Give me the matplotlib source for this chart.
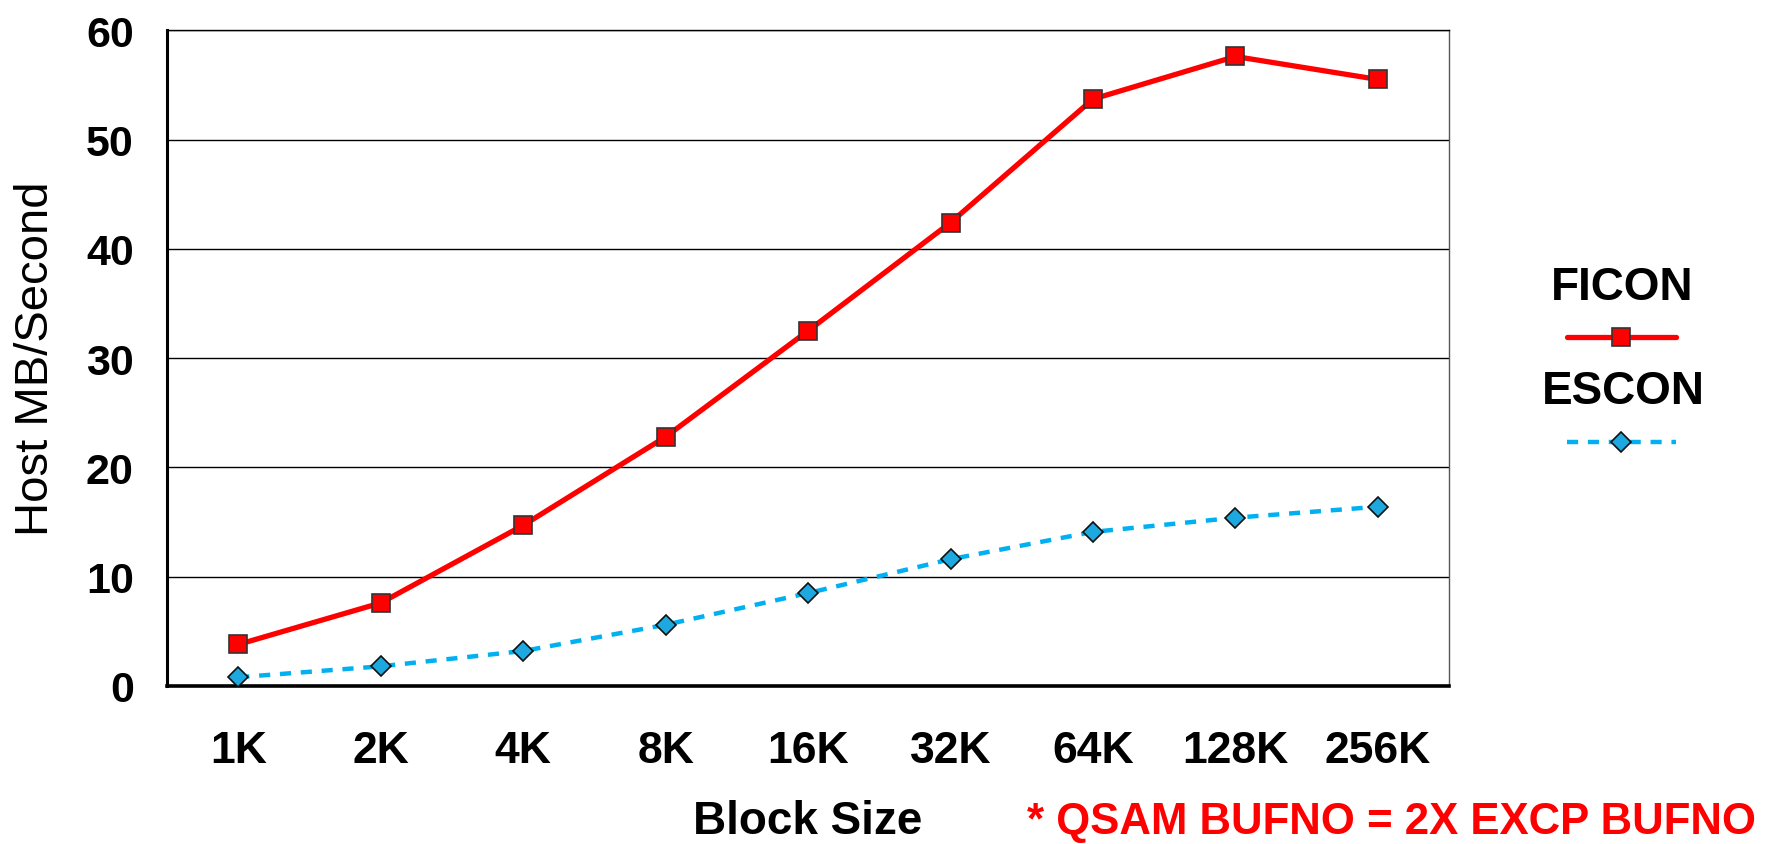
import matplotlib.pyplot as plt
from matplotlib.lines import Line2D

block_sizes = ["1K", "2K", "4K", "8K", "16K", "32K", "64K", "128K", "256K"]
ficon = [3.8, 7.6, 14.7, 22.8, 32.5, 42.4, 53.7, 57.6, 55.5]
escon = [0.8, 1.8, 3.2, 5.6, 8.5, 11.6, 14.1, 15.4, 16.4]

RED = "#FF0000"
BLUE = "#00B0F0"

plt.rcParams["font.family"] = ["Liberation Sans", "DejaVu Sans"]

fig = plt.figure(figsize=(17.68, 8.45), dpi=100)
ax = fig.add_axes([0.0945, 0.187, 0.7251, 0.776])

x = range(len(block_sizes))
ax.plot(x, ficon, color=RED, lw=3.8, marker="s", ms=12.5,
        mfc=RED, mec="#333333", mew=1.2, solid_capstyle="round", zorder=3)
ax.plot(x, escon, color=BLUE, lw=3.2, dashes=(2.5, 2.2), marker="D", ms=10,
        mfc="#1EA8E0", mec="#111111", mew=1.2, zorder=3)

ax.set_xlim(-0.5, len(block_sizes) - 0.5)
ax.set_ylim(0, 60)
ax.set_yticks(range(0, 61, 10))
ax.set_xticks(list(x))
ax.set_xticklabels(block_sizes)
ax.yaxis.grid(True, color="black", lw=1.0)
ax.set_axisbelow(True)
ax.tick_params(axis="both", length=0)
ax.tick_params(axis="x", pad=32, labelsize=32)
ax.tick_params(axis="y", pad=24, labelsize=31)
for lab in ax.get_xticklabels() + ax.get_yticklabels():
    lab.set_fontweight("bold")

ax.spines["left"].set_linewidth(2.2)
ax.spines["bottom"].set_linewidth(2.6)
ax.spines["top"].set_linewidth(1.0)
ax.spines["right"].set_linewidth(1.0)
ax.spines["right"].set_color("#555555")

ax.set_ylabel("Host MB/Second", fontsize=34,
              family=["Liberation Sans Narrow", "Liberation Sans", "DejaVu Sans"],
              labelpad=20)
fig.text(0.457, 0.027, "Block Size", fontsize=33, fontweight="bold",
         ha="center", va="center")
fig.text(0.787, 0.027, "* QSAM BUFNO = 2X EXCP BUFNO", fontsize=31.5,
         fontweight="bold", color=RED, ha="center", va="center")

# legend, label above each sample line
W, H = 1768.0, 845.0
fig.text(1622 / W, 1 - 288 / H, "FICON", fontsize=33, fontweight="bold",
         ha="center", va="center")
fig.text(1623 / W, 1 - 392 / H, "ESCON", fontsize=33, fontweight="bold",
         ha="center", va="center")
fig.add_artist(Line2D([1567 / W, 1621 / W, 1676 / W], [1 - 338 / H] * 3,
                      transform=fig.transFigure, color=RED, lw=3.8,
                      marker="s", ms=12.5, markevery=[1], mfc=RED,
                      mec="#333333", mew=1.2, solid_capstyle="round"))
fig.add_artist(Line2D([1567 / W, 1621 / W, 1676 / W], [1 - 443 / H] * 3,
                      transform=fig.transFigure, color=BLUE, lw=3.2,
                      dashes=(2.5, 2.2), marker="D", ms=10, markevery=[1],
                      mfc="#1EA8E0", mec="#111111", mew=1.2))

fig.savefig("out.png", dpi=100)
